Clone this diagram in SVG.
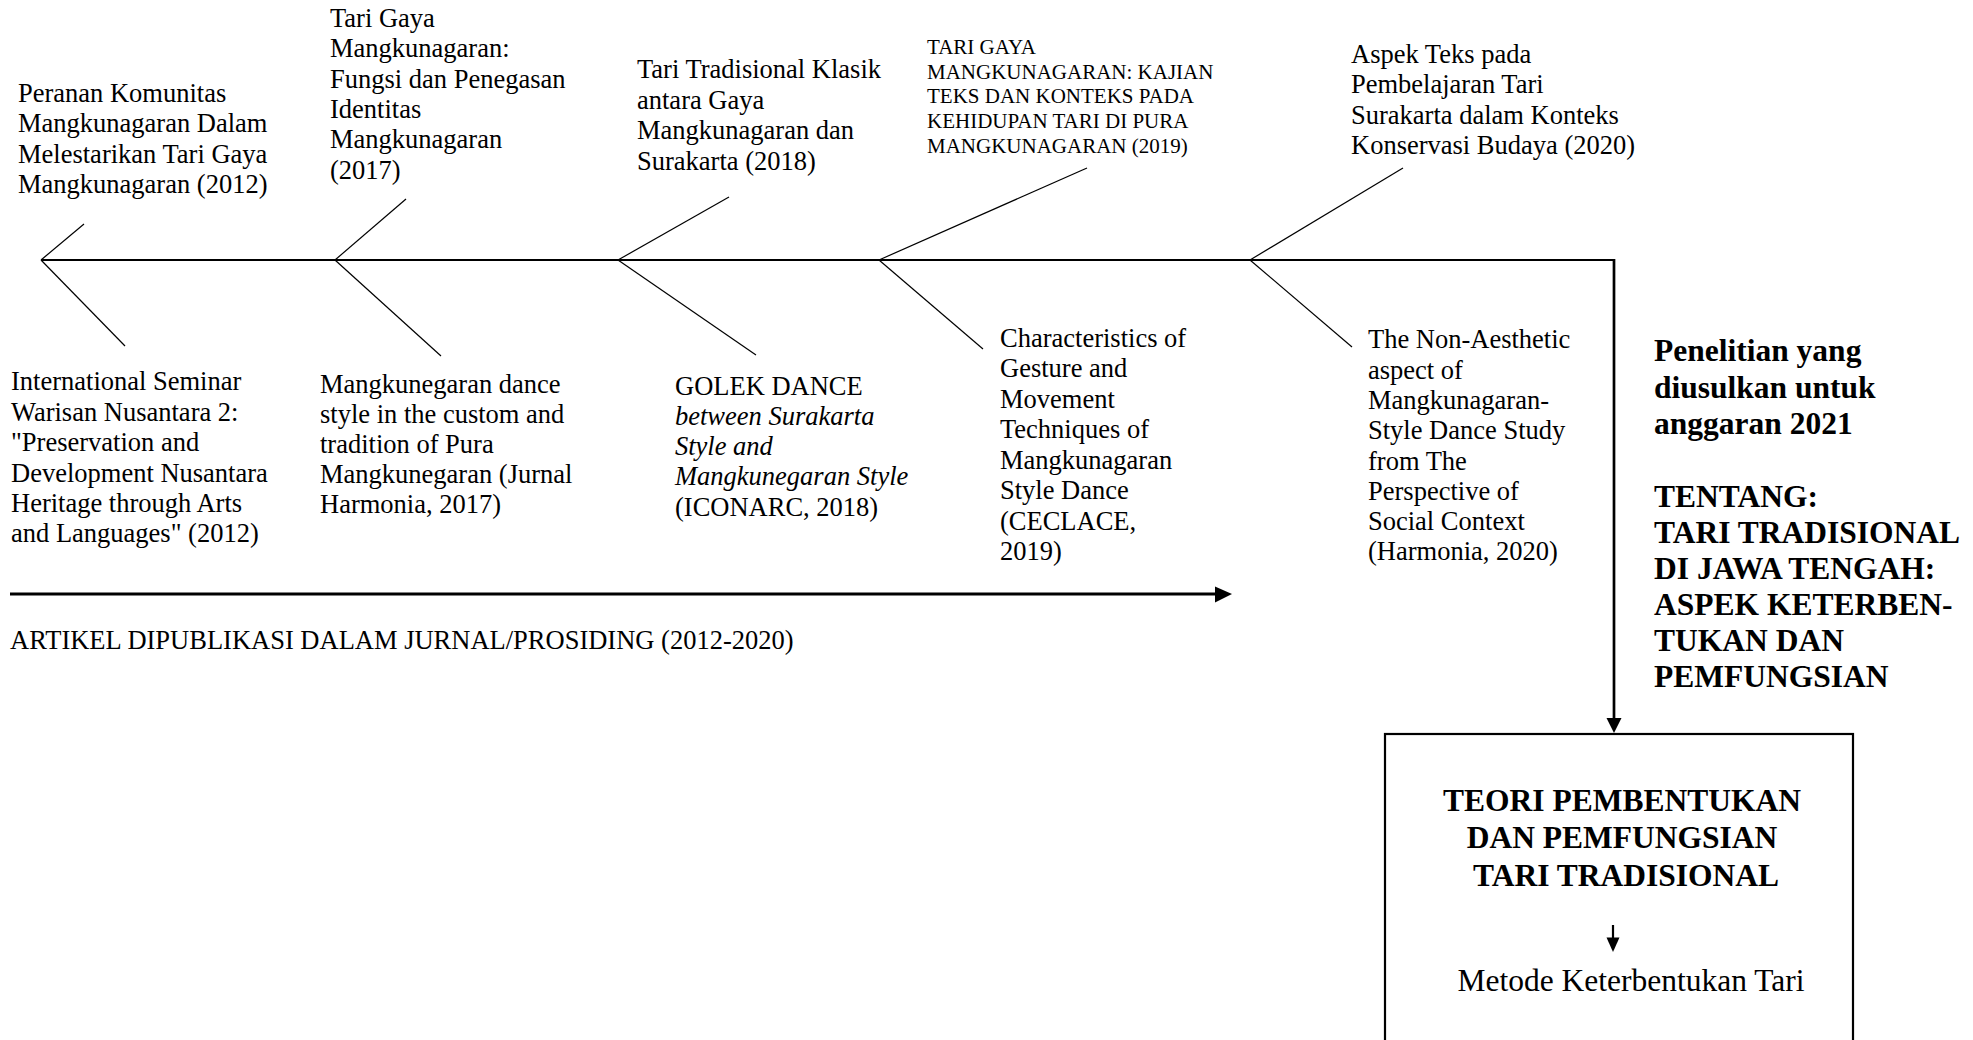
<svg xmlns="http://www.w3.org/2000/svg" width="1973" height="1040" viewBox="0 0 1973 1040">
<defs>
<style>
text{font-family:"Liberation Serif","Times New Roman",serif;fill:#000}
.t{font-size:26.5px}
.s{font-size:21px}
.b{font-size:31.5px;font-weight:bold}
.m{font-size:31.5px}
.i{font-style:italic}
.rib{stroke:#000;stroke-width:1.2;fill:none}
.spine{stroke:#000;stroke-width:1.8;fill:none}
</style>
</defs>
<rect width="1973" height="1040" fill="#fff"/>

<g id="connectors">
<line class="spine" x1="41" y1="260" x2="1614" y2="260"/>
<line class="rib" x1="41" y1="260" x2="84" y2="224"/>
<line class="rib" x1="41" y1="260" x2="125" y2="346"/>
<line class="rib" x1="335" y1="260" x2="406" y2="199"/>
<line class="rib" x1="335" y1="260" x2="441" y2="356"/>
<line class="rib" x1="618" y1="260" x2="729" y2="197"/>
<line class="rib" x1="618" y1="260" x2="756" y2="355"/>
<line class="rib" x1="879" y1="260" x2="1087" y2="168"/>
<line class="rib" x1="879" y1="260" x2="983" y2="349"/>
<line class="rib" x1="1250" y1="260" x2="1403" y2="168"/>
<line class="rib" x1="1250" y1="260" x2="1352" y2="347"/>
<line x1="1614" y1="259" x2="1614" y2="719" stroke="#000" stroke-width="2.7"/>
<path d="M1606.5,718 L1621.5,718 L1614,733 z" fill="#000"/>
<line x1="10" y1="594" x2="1217" y2="594" stroke="#000" stroke-width="2.8"/>
<path d="M1215,586.5 L1232,594 L1215,602.5 z" fill="#000"/>
<line x1="1613" y1="925" x2="1613" y2="940" stroke="#000" stroke-width="2.2"/>
<path d="M1606.5,937.5 L1619.5,937.5 L1613,952 z" fill="#000"/>
</g>

<g id="n2012-top"><text class="t">
<tspan x="18" y="102">Peranan Komunitas</tspan>
<tspan x="18" y="132.3">Mangkunagaran Dalam</tspan>
<tspan x="18" y="162.6">Melestarikan Tari Gaya</tspan>
<tspan x="18" y="193">Mangkunagaran (2012)</tspan></text></g>

<g id="n2017-top"><text class="t">
<tspan x="330" y="27">Tari Gaya</tspan>
<tspan x="330" y="57.3">Mangkunagaran:</tspan>
<tspan x="330" y="87.6">Fungsi dan Penegasan</tspan>
<tspan x="330" y="117.9">Identitas</tspan>
<tspan x="330" y="148.2">Mangkunagaran</tspan>
<tspan x="330" y="178.5">(2017)</tspan></text></g>

<g id="n2018-top"><text class="t">
<tspan x="637" y="78">Tari Tradisional Klasik</tspan>
<tspan x="637" y="108.5">antara Gaya</tspan>
<tspan x="637" y="139">Mangkunagaran dan</tspan>
<tspan x="637" y="169.5">Surakarta (2018)</tspan></text></g>

<g id="n2019-top"><text class="s">
<tspan x="927" y="54">TARI GAYA</tspan>
<tspan x="927" y="79">MANGKUNAGARAN: KAJIAN</tspan>
<tspan x="927" y="103">TEKS DAN KONTEKS PADA</tspan>
<tspan x="927" y="128">KEHIDUPAN TARI DI PURA</tspan>
<tspan x="927" y="152.5">MANGKUNAGARAN (2019)</tspan></text></g>

<g id="n2020-top"><text class="t">
<tspan x="1351" y="63">Aspek Teks pada</tspan>
<tspan x="1351" y="93.3">Pembelajaran Tari</tspan>
<tspan x="1351" y="123.7">Surakarta dalam Konteks</tspan>
<tspan x="1351" y="154">Konservasi Budaya (2020)</tspan></text></g>

<g id="n2012-bottom"><text class="t">
<tspan x="11" y="390">International Seminar</tspan>
<tspan x="11" y="420.5">Warisan Nusantara 2:</tspan>
<tspan x="11" y="451">"Preservation and</tspan>
<tspan x="11" y="481.5">Development Nusantara</tspan>
<tspan x="11" y="512">Heritage through Arts</tspan>
<tspan x="11" y="542.3">and Languages" (2012)</tspan></text></g>

<g id="n2017-bottom"><text class="t">
<tspan x="320" y="393">Mangkunegaran dance</tspan>
<tspan x="320" y="423">style in the custom and</tspan>
<tspan x="320" y="453">tradition of Pura</tspan>
<tspan x="320" y="483">Mangkunegaran (Jurnal</tspan>
<tspan x="320" y="513.3">Harmonia, 2017)</tspan></text></g>

<g id="n2018-bottom"><text class="t">
<tspan x="675" y="394.5">GOLEK DANCE</tspan>
<tspan x="675" y="424.8" class="i">between Surakarta</tspan>
<tspan x="675" y="455" class="i">Style and</tspan>
<tspan x="675" y="485.3" class="i">Mangkunegaran Style</tspan>
<tspan x="675" y="515.5">(ICONARC, 2018)</tspan></text></g>

<g id="n2019-bottom"><text class="t">
<tspan x="1000" y="346.7">Characteristics of</tspan>
<tspan x="1000" y="377.2">Gesture and</tspan>
<tspan x="1000" y="407.7">Movement</tspan>
<tspan x="1000" y="438.2">Techniques of</tspan>
<tspan x="1000" y="468.7">Mangkunagaran</tspan>
<tspan x="1000" y="499.2">Style Dance</tspan>
<tspan x="1000" y="529.7">(CECLACE,</tspan>
<tspan x="1000" y="560.2">2019)</tspan></text></g>

<g id="n2020-bottom"><text class="t">
<tspan x="1368" y="348.3">The Non-Aesthetic</tspan>
<tspan x="1368" y="378.6">aspect of</tspan>
<tspan x="1368" y="408.9">Mangkunagaran-</tspan>
<tspan x="1368" y="439.2">Style Dance Study</tspan>
<tspan x="1368" y="469.5">from The</tspan>
<tspan x="1368" y="499.8">Perspective of</tspan>
<tspan x="1368" y="530.1">Social Context</tspan>
<tspan x="1368" y="560.4">(Harmonia, 2020)</tspan></text></g>

<g id="timeline-label"><text class="t" x="10" y="649">ARTIKEL DIPUBLIKASI DALAM JURNAL/PROSIDING (2012-2020)</text></g>

<g id="proposal"><text class="b">
<tspan x="1654" y="361">Penelitian yang</tspan>
<tspan x="1654" y="397.5">diusulkan untuk</tspan>
<tspan x="1654" y="434">anggaran 2021</tspan>
<tspan x="1654" y="507">TENTANG:</tspan>
<tspan x="1654" y="543">TARI TRADISIONAL</tspan>
<tspan x="1654" y="579">DI JAWA TENGAH:</tspan>
<tspan x="1654" y="615">ASPEK KETERBEN-</tspan>
<tspan x="1654" y="651">TUKAN DAN</tspan>
<tspan x="1654" y="687">PEMFUNGSIAN</tspan></text></g>

<g id="theory-box">
<rect x="1385" y="734" width="468" height="330" fill="none" stroke="#000" stroke-width="2.2"/>
<text class="b" text-anchor="middle">
<tspan x="1626" y="810.5">TEORI PEMBENTUKAN</tspan>
<tspan x="1626" y="848">DAN PEMFUNGSIAN</tspan>
<tspan x="1626" y="885.5">TARI TRADISIONAL</tspan></text>
<text class="m" text-anchor="middle" x="1631" y="991">Metode Keterbentukan Tari</text>
</g>
</svg>
